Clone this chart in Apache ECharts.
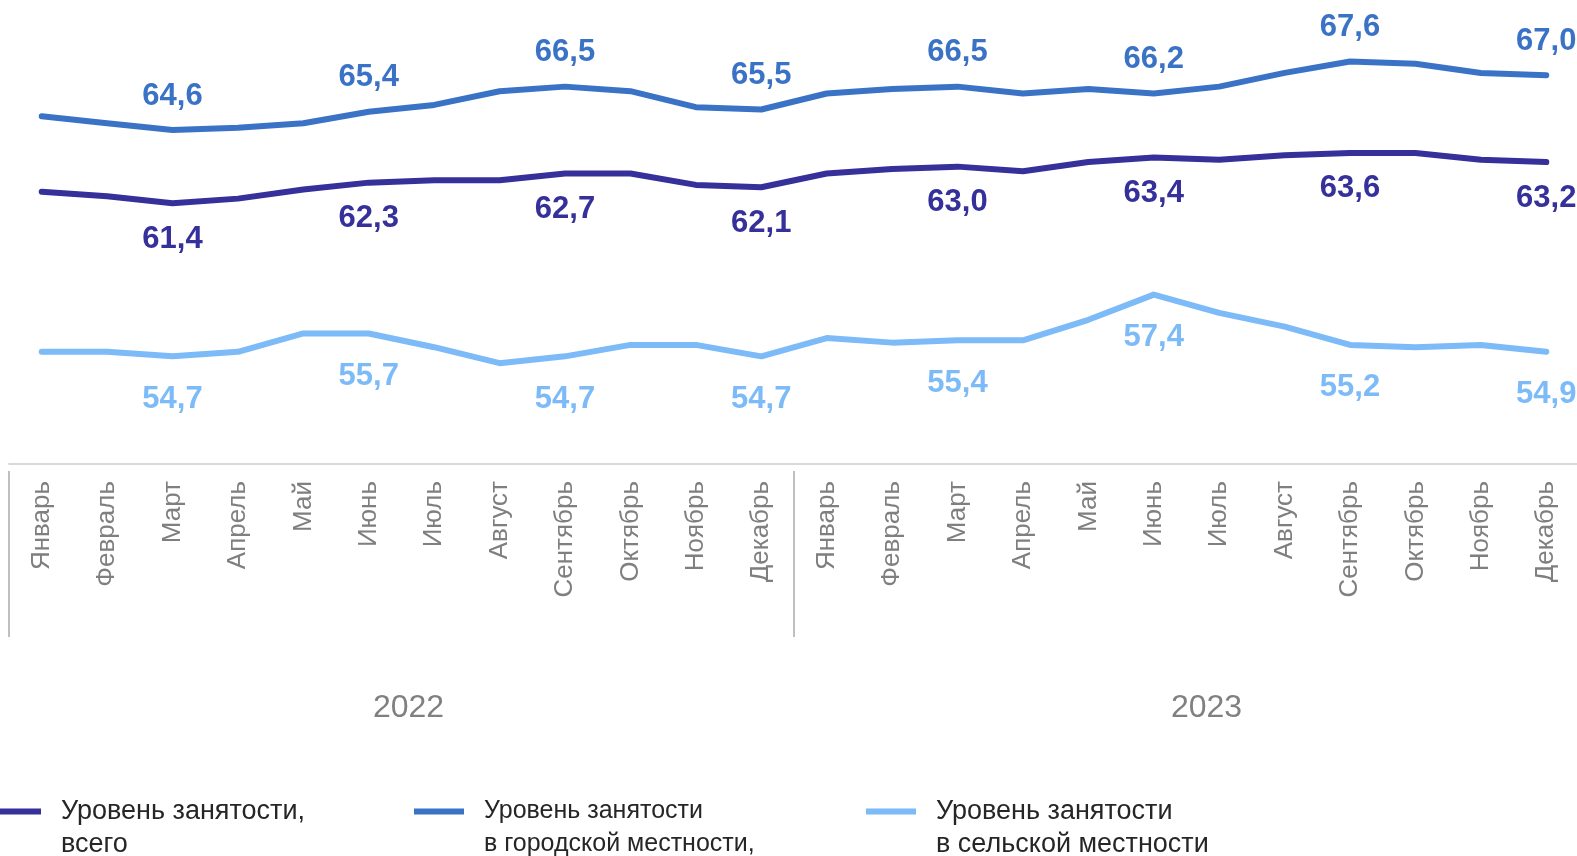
<!DOCTYPE html>
<html>
<head>
<meta charset="utf-8">
<script src="https://cdn.jsdelivr.net/npm/echarts@6/dist/echarts.min.js"></script>
<style>
  html, body { margin: 0; padding: 0; background: #fff; }
  #chart { width: 1577px; height: 856px; }
</style>
</head>
<body>
<div id="chart"></div>
<script>
const months = ['Январь','Февраль','Март','Апрель','Май','Июнь','Июль','Август','Сентябрь','Октябрь','Ноябрь','Декабрь',
  'Январь','Февраль','Март','Апрель','Май','Июнь','Июль','Август','Сентябрь','Октябрь','Ноябрь','Декабрь'];
const years = ['2022', '2023'];

const totalVals = [61.9, 61.7, 61.4, 61.6, 62.0, 62.3, 62.4, 62.4, 62.7, 62.7, 62.2, 62.1,
  62.7, 62.9, 63.0, 62.8, 63.2, 63.4, 63.3, 63.5, 63.6, 63.6, 63.3, 63.2];
const urbanVals = [65.2, 64.9, 64.6, 64.7, 64.9, 65.4, 65.7, 66.3, 66.5, 66.3, 65.6, 65.5,
  66.2, 66.4, 66.5, 66.2, 66.4, 66.2, 66.5, 67.1, 67.6, 67.5, 67.1, 67.0];
const ruralVals = [54.9, 54.9, 54.7, 54.9, 55.7, 55.7, 55.1, 54.4, 54.7, 55.2, 55.2, 54.7,
  55.5, 55.3, 55.4, 55.4, 56.3, 57.4, 56.6, 56.0, 55.2, 55.1, 55.2, 54.9];

// points that carry a value label (every quarter end)
const labelIdx = [2, 5, 8, 11, 14, 17, 20, 23];

const names = ['Уровень занятости,\nвсего', 'Уровень занятости\nв городской местности,', 'Уровень занятости\nв сельской местности'];
const colors = ['#35309a', '#3a73c6', '#7dbaf8'];

const font = "'Liberation Sans', Arial, sans-serif";

const mychart = echarts.init(document.getElementById('chart'));

const withLabels = (vals) => vals.map((v, i) => labelIdx.includes(i) ? { value: v, label: { show: true } } : v);

const makeSeries = (name, vals, color, pos, dist) => ({
  name: name,
  type: 'line',
  data: withLabels(vals),
  symbol: 'circle',
  symbolSize: 1,
  showAllSymbol: true,
  lineStyle: { color: color, width: 6, cap: 'round', join: 'round' },
  itemStyle: { color: color },
  label: {
    show: false,
    position: pos,
    distance: dist,
    color: color,
    fontFamily: font,
    fontWeight: 'bold',
    fontSize: 31,
    formatter: (p) => p.value.toFixed(1).replace('.', ',')
  },
  emphasis: { disabled: true },
  animation: false
});

// legend icon: 50px bar, shifted up to the first text line
const legendIcon = 'path://M0,0H50V6H0Z M0,39L65,39';
const makeLegend = (name, left, size) => ({
  data: [name],
  left: left,
  top: 795,
  padding: 0,
  icon: legendIcon,
  itemWidth: 65,
  itemHeight: 39,
  itemStyle: { borderWidth: 0 },
  selectedMode: false,
  textStyle: { fontFamily: font, fontSize: size, lineHeight: 33, color: '#262626' }
});

// year captions sit a bit right of the half centres
const yearShift = [14, 40];

mychart.setOption({
  animation: false,
  tooltip: { show: false },
  // grid runs past the right edge so the closing separator tick is cut off
  grid: { left: 9, width: 1570, top: 0, bottom: 392, outerBoundsMode: 'none' },
  legend: [
    makeLegend(names[0], -9, 27),
    makeLegend(names[1], 414, 25),
    makeLegend(names[2], 866, 27)
  ],
  xAxis: [
    {
      type: 'category',
      data: months,
      boundaryGap: true,
      axisLine: { show: true, lineStyle: { color: '#d9d9d9', width: 2 } },
      axisTick: { show: false },
      axisLabel: { interval: 0, rotate: 90, margin: 17, fontSize: 26, color: '#7f7f7f', fontFamily: font },
      splitLine: { show: false }
    },
    {
      type: 'category',
      data: years.map((y, i) => ({ value: y, textStyle: { padding: [0, 0, 0, yearShift[i]] } })),
      position: 'bottom',
      offset: 7,
      boundaryGap: true,
      axisLine: { show: false },
      axisTick: { show: true, length: 166, lineStyle: { color: '#bfbfbf', width: 2 } },
      axisLabel: { margin: 221, fontSize: 32, color: '#808080', fontFamily: font },
      splitLine: { show: false }
    }
  ],
  yAxis: {
    type: 'value',
    min: 49.99,
    max: 70.29,
    show: false,
    splitLine: { show: false }
  },
  series: [
    makeSeries(names[0], totalVals, colors[0], 'bottom', 20),
    makeSeries(names[1], urbanVals, colors[1], 'top', 18),
    makeSeries(names[2], ruralVals, colors[2], 'bottom', 27)
  ]
});
</script>
</body>
</html>
